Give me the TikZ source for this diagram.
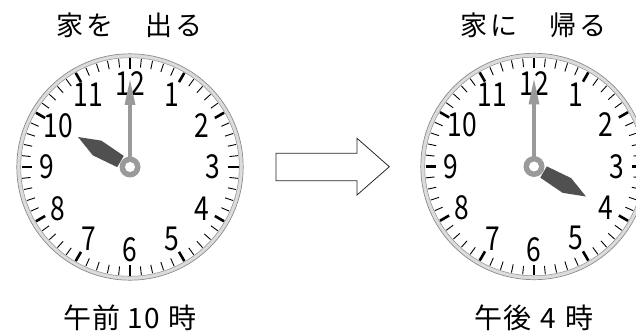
\documentclass[tikz,border=0pt]{standalone}
\usepackage{fontspec}
\newfontfamily\jpfont[LetterSpace=11]{Noto Sans CJK JP}
\newfontfamily\jpnum[LetterSpace=5]{Noto Sans CJK JP}
\newfontfamily\numfont[FakeStretch=0.8]{Noto Sans CJK JP}
\definecolor{rimgray}{HTML}{DCDCDC}
\definecolor{rimedge}{HTML}{8A8A8A}
\definecolor{hourgray}{HTML}{505050}
\definecolor{mingray}{HTML}{9A9A9A}
\tikzset{tickmin/.style={black,line width=0.9pt},
         tickmaj/.style={black,line width=2.6pt},
         numlabel/.style={font=\numfont\fontsize{33}{33}\selectfont,inner sep=0pt},
         title/.style={font=\jpfont\fontsize{27}{27}\selectfont,inner sep=0pt},
         timelabel/.style={font=\jpnum\fontsize{28}{28}\selectfont,inner sep=0pt},
         blockarrow/.style={draw=black!85,line width=0.8pt,fill=white}}
\newcommand{\clockface}[1]{%
   \fill[white] (0,0) circle (113);
   \draw[rimgray, line width=3.6pt] (0,0) circle (111.2);
   \draw[rimedge, line width=0.7pt] (0,0) circle (113.2);
   \draw[rimedge, line width=0.5pt] (0,0) circle (109.3);
   \foreach \m in {0,...,59} {\draw[tickmin] (\m*6:100) -- (\m*6:108.5);}
   \foreach \h in {0,...,11} {\draw[tickmaj] (\h*30:98) -- (\h*30:108.5);}
   \foreach \n in {1,...,12} {\node[numlabel] (#1\n) at ({90-30*\n}:83) {\n};}
}
\newcommand{\clockhands}[1]{%
   \fill[hourgray, rotate=#1] (11,-6.5) -- (38,-8.5) -- (60,0) -- (38,8.5) -- (11,6.5) -- cycle;
   \draw[mingray, line width=3.2pt] (0,8) -- (0,64);
   \fill[mingray] (0,87) -- (-5.5,62) -- (5.5,62) -- cycle;
   \fill[mingray] (0,0) circle (10.5);
   \fill[white] (0,0) circle (5);
}

\begin{document}
\begin{tikzpicture}[x=1pt,y=1pt]
   \useasboundingbox (0,0) rectangle (636,332);
   \clip (0,0) rectangle (636,332);

   % leaving home
   \node[title] (leave) at (129.5,307) {家を　出る};
   \begin{scope}[shift={(130,165)}]
    \clockface{a}
    \clockhands{150}
   \end{scope}
   \node[timelabel] (am) at (130,14) {午前\hspace{7pt}10\hspace{8pt}時};

   % block arrow
   \draw[blockarrow] (276,151.3) -- (357,151.3) -- (357,137) -- (389.3,165.3)
      -- (357,193.7) -- (357,178.7) -- (276,178.7) -- cycle;

   % coming home
   \node[title] (back) at (533.5,307) {家に　帰る};
   \begin{scope}[shift={(534,165.5)}]
    \clockface{b}
    \clockhands{-30}
   \end{scope}
   \node[timelabel] (pm) at (534,14) {午後\hspace{9pt}4\hspace{9pt}時};
\end{tikzpicture}
\end{document}
